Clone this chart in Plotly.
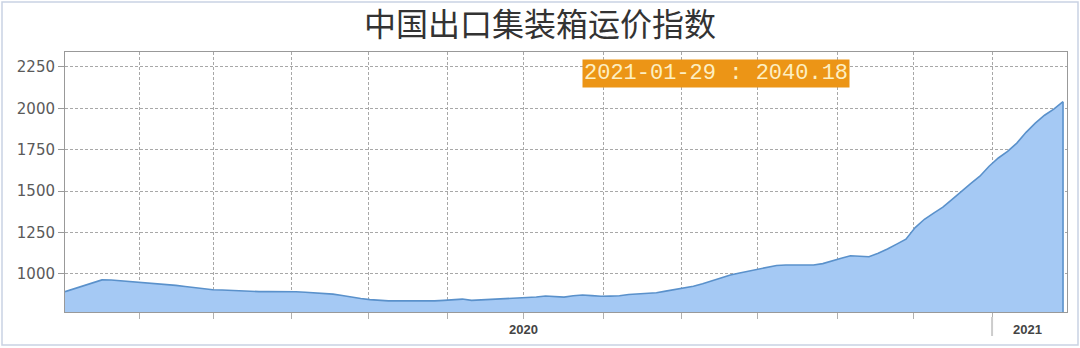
import pandas as pd
import plotly.graph_objects as go

# ---- data ----
dates = pd.date_range("2019-01-04", "2021-01-29", freq="7D").strftime("%Y-%m-%d").tolist()
ccfi = [
    893, 911, 930, 949, 964, 963, 959, 954, 948, 944,
    940, 937, 931, 924, 916, 908, 904, 903, 900, 895,
    893, 893, 893, 894, 893, 892, 889, 886, 882, 878,
    870, 860, 852, 845, 839, 837, 837, 836, 837, 837,
    837, 840, 845, 848, 840, 843, 847, 848, 850, 852,
    855, 861, 867, 864, 860, 868, 873, 869, 865, 866,
    868, 876, 880, 881, 886, 896, 905, 914, 925, 940,
    957, 978, 994, 1006, 1018, 1030, 1040, 1051, 1054, 1054,
    1054, 1054, 1062, 1076, 1094, 1110, 1108, 1104, 1125, 1150,
    1180, 1210, 1280, 1330, 1367, 1403, 1450, 1500, 1545, 1590,
    1650, 1700, 1740, 1790, 1855, 1910, 1958, 1995, 2040.18,
]
y_ticks = [1000, 1250, 1500, 1750, 2000, 2250]
x_labels = ["2020", "2021"]
title_text = "中国出口集装箱运价指数"
last_label = f"{dates[-1]} : {ccfi[-1]:.2f}"

idx = list(range(len(ccfi)))
y_min, y_max = 770, 2340

# layout geometry (pixels)
W, H = 1080, 348
L, R, T, B = 65, 13, 52, 36
PW, PH = W - L - R, H - T - B

# grid positions along the index axis
grid_x = [8.01, 16.02, 24.46, 32.79, 41.34, 49.57, 58.23, 66.67, 74.89, 83.55, 91.77, 100.32]
label_x = [49.57, 104.2]

fig = go.Figure()
fig.add_trace(go.Scatter(
    x=idx, y=ccfi, mode="lines", fill="tozeroy",
    line=dict(color="#5a91cb", width=1.6),
    fillcolor="#a5c9f4",
    text=dates, hovertemplate="%{text}: %{y}<extra></extra>",
    showlegend=False,
))
# closing edge of the area at the last point
fig.add_trace(go.Scatter(
    x=[idx[-1], idx[-1]], y=[y_min, ccfi[-1]], mode="lines",
    line=dict(color="#5a91cb", width=1.6), hoverinfo="skip", showlegend=False,
))

grid_style = dict(showgrid=True, gridcolor="#a8a8a8", griddash="3px,2px", gridwidth=1)

fig.update_xaxes(
    range=[0, 108.43], tickvals=grid_x, ticktext=[""] * len(grid_x),
    ticks="outside", ticklen=6, tickcolor="#b0b0b0",
    showline=True, linecolor="#999999", linewidth=1, mirror=True,
    zeroline=False, fixedrange=True, **grid_style,
)
fig.update_yaxes(
    range=[y_min, y_max], tickvals=y_ticks,
    ticks="outside", ticklen=6, tickcolor="#999999",
    tickfont=dict(family="DejaVu Sans", size=15, color="#5a5a5a"),
    showline=True, linecolor="#999999", linewidth=1, mirror=True,
    zeroline=False, fixedrange=True, **grid_style,
)

annotations = []
for lx, txt in zip(label_x, x_labels):
    annotations.append(dict(
        x=lx, xref="x", y=(312 - 329) / PH, yref="paper", yanchor="middle",
        text=f"<b>{txt}</b>", showarrow=False,
        font=dict(family="Liberation Sans", size=13, color="#444444"),
    ))
annotations.append(dict(
    x=(716 - L) / PW, xref="paper", y=(312 - 73.5) / PH, yref="paper",
    xanchor="center", yanchor="middle",
    text=last_label, showarrow=False,
    font=dict(family="Liberation Mono", size=22, color="#fdefc2"),
    bgcolor="#ec9516", borderpad=1,
))

shapes = [
    # outer frame
    dict(type="rect", xref="paper", yref="paper",
         x0=(2 - L) / PW, x1=(1078 - L) / PW, y0=(312 - 345) / PH, y1=(312 - 2) / PH,
         line=dict(color="#c9d2e3", width=1.5), fillcolor="rgba(0,0,0,0)", layer="below"),
    # year separator mark for 2021
    dict(type="line", xref="x", yref="paper",
         x0=grid_x[-1], x1=grid_x[-1], y0=(312 - 317) / PH, y1=(312 - 336) / PH,
         line=dict(color="#cccccc", width=2)),
]

fig.update_layout(
    width=W, height=H,
    margin=dict(l=L, r=R, t=T, b=B),
    paper_bgcolor="white", plot_bgcolor="white",
    title=dict(text=title_text, x=0.5, xref="container", xanchor="center",
               y=1 - 25 / H, yref="container", yanchor="middle",
               font=dict(family="Noto Sans CJK SC", size=32, color="#333333")),
    annotations=annotations, shapes=shapes,
)

fig.write_html("out.html")
